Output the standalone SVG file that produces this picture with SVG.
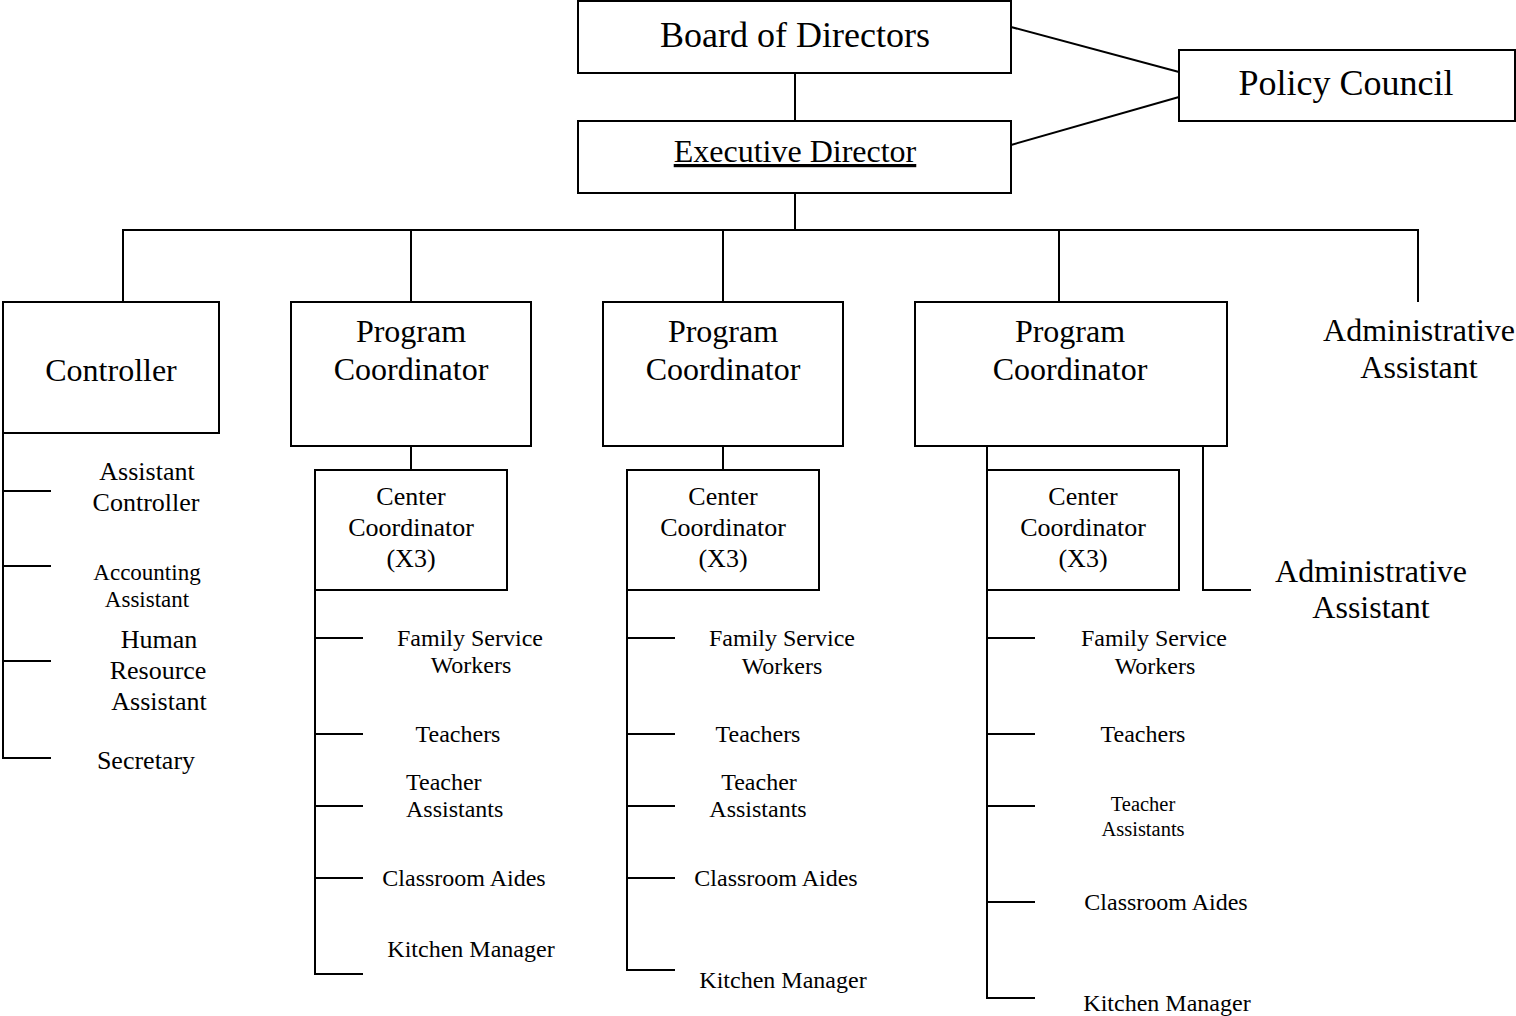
<svg xmlns="http://www.w3.org/2000/svg" width="1516" height="1016" viewBox="0 0 1516 1016">
<style>
rect{fill:#fff;stroke:#000;stroke-width:2}
line{stroke:#000;stroke-width:2}
text{font-family:"Liberation Serif","Times New Roman",serif;fill:#000;text-anchor:middle}
.xl{font-size:36px}
.l{font-size:32px}
.m{font-size:26px}
.s{font-size:24px}
.xs{font-size:23px}
.xxs{font-size:20.5px}
</style>
<rect x="0" y="0" width="1516" height="1016" style="stroke:none"/>
<g id="connectors">
<line x1="795" y1="73" x2="795" y2="121"/>
<line x1="1011" y1="27" x2="1179" y2="72"/>
<line x1="1011" y1="145" x2="1179" y2="97"/>
<line x1="795" y1="193" x2="795" y2="230"/>
<line x1="122" y1="230" x2="1419" y2="230"/>
<line x1="123" y1="230" x2="123" y2="302"/>
<line x1="411" y1="230" x2="411" y2="302"/>
<line x1="723" y1="230" x2="723" y2="302"/>
<line x1="1059" y1="230" x2="1059" y2="302"/>
<line x1="1418" y1="230" x2="1418" y2="302"/>
<line x1="3" y1="433" x2="3" y2="759"/>
<line x1="3" y1="491" x2="51" y2="491"/>
<line x1="3" y1="566" x2="51" y2="566"/>
<line x1="3" y1="661" x2="51" y2="661"/>
<line x1="2" y1="758" x2="51" y2="758"/>
<line x1="411" y1="446" x2="411" y2="470"/>
<line x1="723" y1="446" x2="723" y2="470"/>
<line x1="315" y1="590" x2="315" y2="975"/>
<line x1="315" y1="638" x2="363" y2="638"/>
<line x1="315" y1="734" x2="363" y2="734"/>
<line x1="315" y1="806" x2="363" y2="806"/>
<line x1="315" y1="878" x2="363" y2="878"/>
<line x1="314" y1="974" x2="363" y2="974"/>
<line x1="627" y1="590" x2="627" y2="971"/>
<line x1="627" y1="638" x2="675" y2="638"/>
<line x1="627" y1="734" x2="675" y2="734"/>
<line x1="627" y1="806" x2="675" y2="806"/>
<line x1="627" y1="878" x2="675" y2="878"/>
<line x1="626" y1="970" x2="675" y2="970"/>
<line x1="987" y1="446" x2="987" y2="999"/>
<line x1="987" y1="638" x2="1035" y2="638"/>
<line x1="987" y1="734" x2="1035" y2="734"/>
<line x1="987" y1="806" x2="1035" y2="806"/>
<line x1="987" y1="902" x2="1035" y2="902"/>
<line x1="986" y1="998" x2="1035" y2="998"/>
<line x1="1203" y1="446" x2="1203" y2="591"/>
<line x1="1202" y1="590" x2="1251" y2="590"/>
</g>
<g id="board"><rect x="578" y="1" width="433" height="72"/><text class="xl" x="795" y="47">Board of Directors</text></g>
<g id="policy"><rect x="1179" y="50" width="336" height="71"/><text class="xl" x="1346" y="95">Policy Council</text></g>
<g id="exec"><rect x="578" y="121" width="433" height="72"/><text class="l" x="795" y="162" text-decoration="underline">Executive Director</text></g>
<g id="controller"><rect x="3" y="302" width="216" height="131"/><text class="l" x="111" y="381">Controller</text></g>
<g id="pc1"><rect x="291" y="302" width="240" height="144"/><text class="l" x="411" y="342">Program</text><text class="l" x="411" y="380">Coordinator</text></g>
<g id="pc2"><rect x="603" y="302" width="240" height="144"/><text class="l" x="723" y="342">Program</text><text class="l" x="723" y="380">Coordinator</text></g>
<g id="pc3"><rect x="915" y="302" width="312" height="144"/><text class="l" x="1070" y="342">Program</text><text class="l" x="1070" y="380">Coordinator</text></g>
<g id="admin1"><text class="l" x="1419" y="341">Administrative</text><text class="l" x="1419" y="378">Assistant</text></g>
<g id="cc1"><rect x="315" y="470" width="192" height="120"/><text class="m" x="411" y="505">Center</text><text class="m" x="411" y="536">Coordinator</text><text class="m" x="411" y="567">(X3)</text></g>
<g id="cc2"><rect x="627" y="470" width="192" height="120"/><text class="m" x="723" y="505">Center</text><text class="m" x="723" y="536">Coordinator</text><text class="m" x="723" y="567">(X3)</text></g>
<g id="cc3"><rect x="987" y="470" width="192" height="120"/><text class="m" x="1083" y="505">Center</text><text class="m" x="1083" y="536">Coordinator</text><text class="m" x="1083" y="567">(X3)</text></g>
<g id="admin2"><text class="l" x="1371" y="582">Administrative</text><text class="l" x="1371" y="618">Assistant</text></g>
<g id="asstcontroller"><text class="m" x="147" y="480">Assistant</text><text class="m" x="146" y="511">Controller</text></g>
<g id="accounting"><text class="xs" x="147" y="580">Accounting</text><text class="xs" x="147" y="607">Assistant</text></g>
<g id="hr"><text class="m" x="159" y="648">Human</text><text class="m" x="158" y="679">Resource</text><text class="m" x="159" y="710">Assistant</text></g>
<g id="secretary"><text class="m" x="146" y="769">Secretary</text></g>
<g id="c1-fsw"><text class="s" x="470" y="646">Family Service</text><text class="s" x="471" y="673">Workers</text></g>
<g id="c1-teachers"><text class="s" x="458" y="742">Teachers</text></g>
<g id="c1-ta"><text class="s" x="406" y="790" style="text-anchor:start">Teacher</text><text class="s" x="406" y="817" style="text-anchor:start">Assistants</text></g>
<g id="c1-aides"><text class="s" x="464" y="886">Classroom Aides</text></g>
<g id="c1-kitchen"><text class="s" x="471" y="957">Kitchen Manager</text></g>
<g id="c2-fsw"><text class="s" x="782" y="646">Family Service</text><text class="s" x="782" y="674">Workers</text></g>
<g id="c2-teachers"><text class="s" x="758" y="742">Teachers</text></g>
<g id="c2-ta"><text class="s" x="759" y="790">Teacher</text><text class="s" x="758" y="817">Assistants</text></g>
<g id="c2-aides"><text class="s" x="776" y="886">Classroom Aides</text></g>
<g id="c2-kitchen"><text class="s" x="783" y="988">Kitchen Manager</text></g>
<g id="c3-fsw"><text class="s" x="1154" y="646">Family Service</text><text class="s" x="1155" y="674">Workers</text></g>
<g id="c3-teachers"><text class="s" x="1143" y="742">Teachers</text></g>
<g id="c3-ta"><text class="xxs" x="1143" y="811">Teacher</text><text class="xxs" x="1143" y="836">Assistants</text></g>
<g id="c3-aides"><text class="s" x="1166" y="910">Classroom Aides</text></g>
<g id="c3-kitchen"><text class="s" x="1167" y="1011">Kitchen Manager</text></g>
</svg>
